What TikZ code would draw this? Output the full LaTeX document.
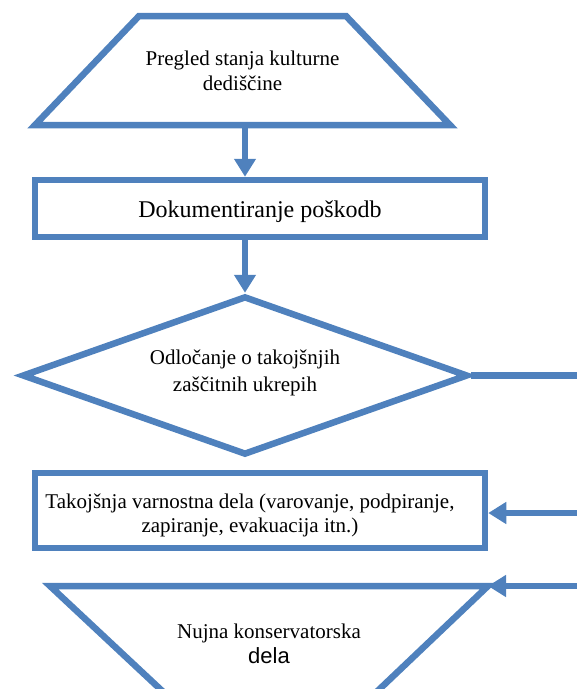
\documentclass[tikz,border=0pt]{standalone}
\usepackage{fontspec}
\setmainfont{Liberation Serif}
\newfontfamily\sansdela{Liberation Sans}
\usetikzlibrary{shapes.geometric,arrows.meta}
\definecolor{flowblue}{HTML}{4F81BD}

\begin{document}
\begin{tikzpicture}[x=1pt,y=-1pt,
    ksztalt/.style={draw=flowblue, line width=6.5pt, line join=miter},
    blok/.style={ksztalt, fill=white, align=center, font=\fontsize{21}{25}\selectfont},
    opis/.style={align=center, font=\fontsize{21}{25}\selectfont},
    strz/.style={draw=flowblue, line width=6.5pt, -{Triangle[length=18pt,width=21pt]}},
    linia/.style={draw=flowblue, line width=6.5pt}]
  \useasboundingbox (0,0) rectangle (577,689);

  % Trapez u gory
  \coordinate (g1) at (35,125);
  \coordinate (g2) at (139,16);
  \coordinate (g3) at (346,16);
  \coordinate (g4) at (450,125);
  \draw[ksztalt] (g1) -- (g2) -- (g3) -- (g4) -- cycle;
  \node[opis] (pregled) at (242.5,71) {Pregled stanja kulturne\\dediščine};
  \coordinate (pregled-dol) at (245,125);

  % Prostokaty i romb
  \node[blok, minimum width=450pt, minimum height=57pt, font=\fontsize{24}{28}\selectfont]
      (dok) at (260,208.5) {\rule{0pt}{24pt}Dokumentiranje poškodb};
  \node[blok, diamond, aspect=2.8, minimum width=446pt, minimum height=159pt,
        font=\fontsize{21}{27}\selectfont]
      (odl) at (245,375.5) {Odločanje o takojšnjih\\zaščitnih ukrepih\\[-17pt]};
  \node[blok, minimum width=450pt, minimum height=75pt, font=\fontsize{21}{24}\selectfont]
      (tak) at (260,510.5) {\rule{0pt}{25pt}Takojšnja varnostna dela (varovanje, podpiranje,\hspace*{20pt}\\zapiranje, evakuacija itn.)\hspace*{20pt}};

  % Odwrocony trapez na dole (uciety)
  \coordinate (d1) at (50,586);
  \coordinate (d2) at (488,586);
  \coordinate (d3) at (366,702);
  \coordinate (d4) at (174,702);
  \draw[ksztalt] (d1) -- (d2) -- (d3) -- (d4) -- cycle;
  \node[opis] (nujna) at (269,644) {Nujna konservatorska\\{\sansdela\fontsize{22}{26}\selectfont dela}};

  % Wolne konce linii z prawej strony
  \coordinate (p1) at (577,375.5);
  \coordinate (p2) at (577,513);
  \coordinate (p3) at (577,586);

  % Strzalki
  \draw[strz] (pregled-dol) -- (dok.north -| pregled-dol);
  \draw[strz] (dok.south -| odl.north) -- (odl.north);
  \draw[linia] (odl.east) -- (p1);
  \draw[strz] (p2) -- (p2 -| tak.east);
  \draw[strz] (p3) -- (d2);
\end{tikzpicture}
\end{document}
